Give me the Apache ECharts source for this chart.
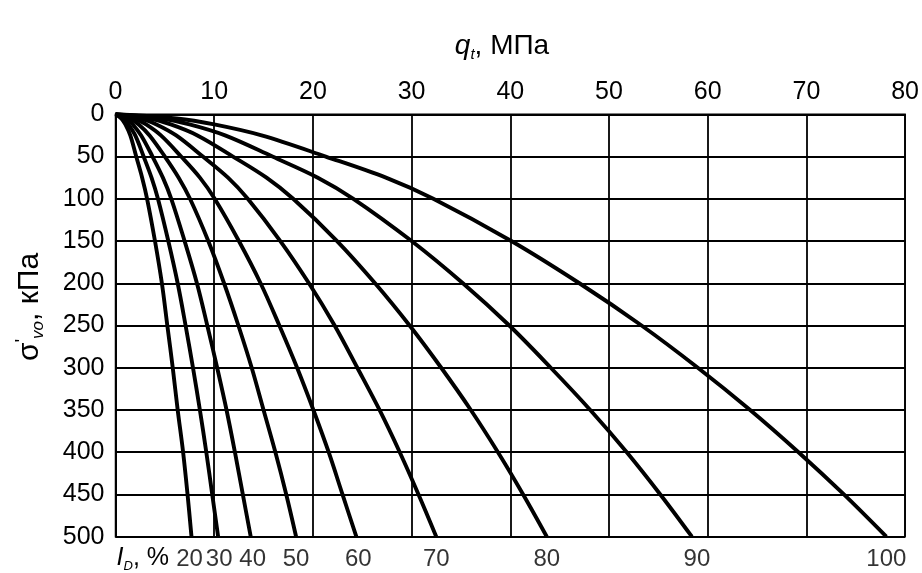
<!DOCTYPE html>
<html><head><meta charset="utf-8">
<script src="https://cdn.jsdelivr.net/npm/echarts@6/dist/echarts.min.js"></script>
<style>html,body{margin:0;padding:0;background:#fff}#c{width:922px;height:573px}</style>
</head><body><div id="c"></div>
<script>
// vertical effective stress, kPa (y, inverted)
const sigma = [0, 5, 12, 25, 50, 75, 100, 150, 200, 250, 300, 350, 400, 450, 500];
// relative density I_D, % (curve labels)
const idLabels = ['20', '30', '40', '50', '60', '70', '80', '90', '100'];
// cone resistance q_t, MPa
const qId20  = [0, 0.6, 1.0, 1.5, 2.1, 2.7, 3.2, 4.0, 4.7, 5.25, 5.8, 6.3, 6.85, 7.3, 7.7];
const qId30  = [0, 0.8, 1.3, 2.0, 2.85, 3.65, 4.3, 5.35, 6.3, 7.1, 7.85, 8.55, 9.2, 9.8, 10.4];
const qId40  = [0, 1.1, 1.75, 2.6, 3.75, 4.8, 5.65, 7.0, 8.25, 9.3, 10.3, 11.25, 12.1, 12.9, 13.7];
const qId50  = [0, 1.45, 2.35, 3.45, 5.0, 6.4, 7.55, 9.4, 11.0, 12.45, 13.8, 15.0, 16.2, 17.3, 18.3];
const qId60  = [0, 1.95, 3.1, 4.6, 6.65, 8.55, 10.05, 12.5, 14.7, 16.6, 18.4, 20.05, 21.6, 23.0, 24.4];
const qId70  = [0, 2.6, 4.15, 6.15, 8.85, 11.4, 13.4, 16.7, 19.6, 22.2, 24.5, 26.75, 28.8, 30.7, 32.5];
const qId80  = [0, 3.45, 5.6, 8.3, 11.9, 15.3, 18.0, 22.45, 26.3, 29.8, 33.0, 36.0, 38.75, 41.3, 43.7];
const qId90  = [0, 4.6, 7.5, 11.1, 15.9, 20.5, 24.1, 30.0, 35.2, 39.9, 44.1, 48.1, 51.8, 55.2, 58.4];
const qId100 = [0, 6.2, 10.0, 14.8, 21.3, 27.4, 32.2, 40.1, 47.0, 53.3, 59.0, 64.3, 69.2, 73.8, 78.1];
// axis ranges
const qMin = 0, qMax = 80, qStep = 10;
const sMin = 0, sMax = 500, sStep = 50;

const curves = [qId20, qId30, qId40, qId50, qId60, qId70, qId80, qId90, qId100];
const FONT = '"Liberation Sans", Arial, sans-serif';
// small horizontal nudges (px) of the curve-end labels, styling only
const labelNudge = { '20': -2, '30': 1, '40': 2, '60': 2, '90': 5 };

const series = curves.map((q, k) => ({
  name: idLabels[k],
  type: 'line',
  data: sigma.map((s, i) => [q[i], s]),
  smooth: 0.35,
  showSymbol: false,
  symbol: 'none',
  lineStyle: { color: '#000', width: 3.9 },
  z: 5
}));
series.push({
  type: 'scatter',
  data: curves.map((q, k) => ({
    name: idLabels[k],
    value: [q[q.length - 1], sigma[sigma.length - 1]],
    label: { offset: [labelNudge[idLabels[k]] || 0, 0] }
  })),
  symbolSize: 1,
  itemStyle: { color: 'rgba(0,0,0,0)' },
  clip: false,
  label: {
    show: true, position: 'bottom', distance: 10,
    formatter: '{b}', color: '#000', fontSize: 24, fontFamily: FONT
  },
  z: 6
});

const chart = echarts.init(document.getElementById('c'), null, { renderer: 'canvas' });
chart.setOption({
  animation: false,
  backgroundColor: '#fff',
  grid: { left: 115.5, right: 15.3, top: 114.3, bottom: 36.3, show: true, borderColor: '#000', borderWidth: 1.5 },
  xAxis: {
    type: 'value', position: 'top', min: qMin, max: qMax, interval: qStep,
    axisLine: { show: true, lineStyle: { color: '#000', width: 1.5 } },
    axisTick: { show: false },
    axisLabel: { color: '#000', fontSize: 25, fontFamily: FONT, margin: 10 },
    splitLine: { show: true, lineStyle: { color: '#000', width: 1.8 } }
  },
  yAxis: {
    type: 'value', inverse: true, min: sMin, max: sMax, interval: sStep,
    axisLine: { show: true, lineStyle: { color: '#000', width: 1.8 } },
    axisTick: { show: false },
    axisLabel: { color: '#000', fontSize: 25, fontFamily: FONT, margin: 11 },
    splitLine: { show: true, lineStyle: { color: '#000', width: 1.8 } }
  },
  graphic: [
    {
      type: 'text', x: 502, y: 46,
      style: {
        text: '{i|q}{s|t}{n|, МПа}', align: 'center', verticalAlign: 'middle',
        rich: {
          i: { fontSize: 28, fontStyle: 'italic', fontFamily: FONT, fill: '#000', lineHeight: 32 },
          s: { fontSize: 15, fontStyle: 'italic', fontFamily: FONT, fill: '#000', verticalAlign: 'bottom', lineHeight: 16 },
          n: { fontSize: 28, fontFamily: FONT, fill: '#000', lineHeight: 32 }
        }
      }
    },
    {
      type: 'text', x: 30, y: 307, rotation: Math.PI / 2,
      style: {
        text: "{n|σ}{p|'}{s|vo}{n|, кПа}", align: 'center', verticalAlign: 'middle',
        rich: {
          n: { fontSize: 30, fontFamily: FONT, fill: '#000', lineHeight: 34 },
          p: { fontSize: 19, fontFamily: FONT, fill: '#000', verticalAlign: 'top', lineHeight: 19 },
          s: { fontSize: 17, fontStyle: 'italic', fontFamily: FONT, fill: '#000', verticalAlign: 'bottom', lineHeight: 17 }
        }
      }
    },
    {
      type: 'text', x: 169, y: 558,
      style: {
        text: '{i|I}{s|D}{n|, %}', align: 'right', verticalAlign: 'middle',
        rich: {
          i: { fontSize: 25, fontStyle: 'italic', fontFamily: FONT, fill: '#000', lineHeight: 30 },
          s: { fontSize: 13, fontStyle: 'italic', fontFamily: FONT, fill: '#000', verticalAlign: 'bottom', lineHeight: 13 },
          n: { fontSize: 25, fontFamily: FONT, fill: '#000', lineHeight: 30 }
        }
      }
    }
  ],
  series: series
});
</script>
</body></html>
